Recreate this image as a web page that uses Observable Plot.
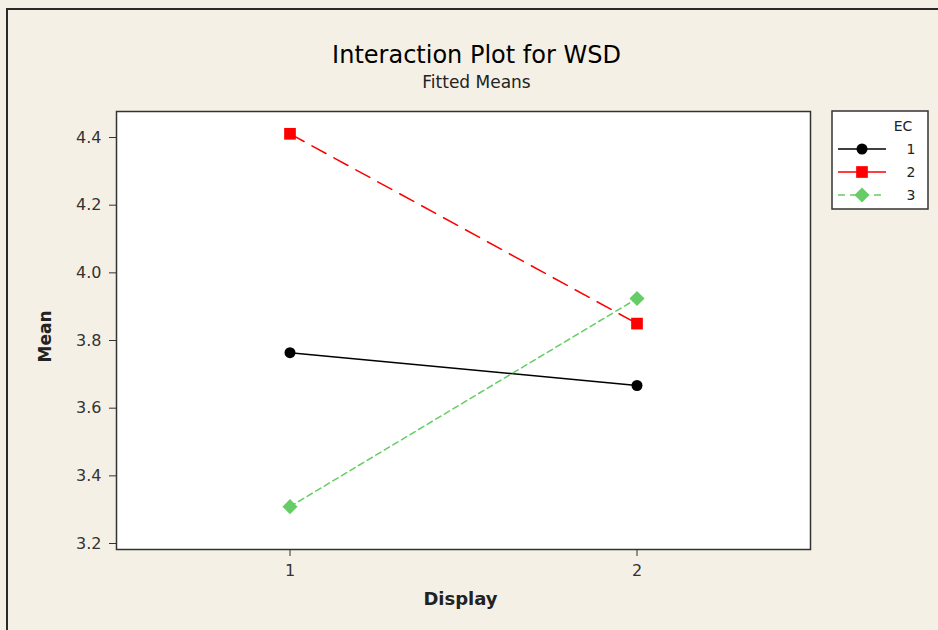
<!DOCTYPE html>
<html><head><meta charset="utf-8">
<script src="https://cdn.jsdelivr.net/npm/d3@7"></script>
<script src="https://cdn.jsdelivr.net/npm/@observablehq/plot@0.6"></script>
<style>
html,body{margin:0;padding:0;background:#f5f0e6;}
#wrap{position:relative;width:938px;height:630px;overflow:hidden;background:#f5f0e6;}
#border{position:absolute;left:6px;top:8px;width:960px;height:660px;border-left:2px solid #2a2a2a;border-top:2px solid #2a2a2a;pointer-events:none;}
#wrap svg{position:absolute;left:0;top:0;}
</style></head><body><div id="wrap"><div id="border"></div></div>
<script>
const display = [1, 2];
const ecLevels = ["1", "2", "3"];
const ec1 = [3.764, 3.667];
const ec2 = [4.411, 3.850];
const ec3 = [3.309, 3.924];
const yTicks = [3.2, 3.4, 3.6, 3.8, 4.0, 4.2, 4.4];
const xTicks = [1, 2];
const title = "Interaction Plot for WSD";
const subtitle = "Fitted Means";
const xLabel = "Display";
const yLabel = "Mean";
const legendTitle = "EC";

const colors = ["#000000", "#ff0000", "#66cc66"];
const symbols = ["circle", "square", "diamond2"];
const dashes = [null, "16,9", "6,4"];
const radii = [5.5, 6.6, 6.8];
const seriesValues = [ec1, ec2, ec3];

const rows = ecLevels.flatMap((ec, i) => display.map((d, j) => ({ec, display: d, mean: seriesValues[i][j]})));

const seriesMarks = ecLevels.flatMap((ec, i) => {
  const data = rows.filter(r => r.ec === ec);
  return [
    Plot.line(data, {x: "display", y: "mean", stroke: colors[i], strokeWidth: 1.5, strokeDasharray: dashes[i]}),
    Plot.dot(data, {x: "display", y: "mean", symbol: symbols[i], r: radii[i], fill: colors[i], stroke: "none"})
  ];
});

const chart = Plot.plot({
  width: 938, height: 630,
  marginLeft: 116, marginRight: 128, marginTop: 111, marginBottom: 81,
  style: {background: "transparent", fontFamily: "DejaVu Sans, sans-serif", fontSize: "16px", color: "#333"},
  x: {domain: [0.5, 2.5]},
  y: {domain: [3.1823, 4.4769]},
  marks: [
    Plot.frame({fill: "white"}),
    Plot.axisY({ticks: yTicks, tickFormat: d => d.toFixed(1), tickSize: 7, tickPadding: 8, label: null, fontSize: 16, color: "#333"}),
    Plot.axisX({ticks: xTicks, tickFormat: d => String(d), tickSize: 7, tickPadding: 8, label: null, fontSize: 16, color: "#333"}),
    ...seriesMarks,
    Plot.frame({stroke: "#333", strokeWidth: 1.5}),
    Plot.text([title], {frameAnchor: "top", textAnchor: "middle", lineAnchor: "middle", dx: 13, dy: -56, fontSize: 24, fill: "#000"}),
    Plot.text([subtitle], {frameAnchor: "top", textAnchor: "middle", lineAnchor: "middle", dx: 13, dy: -29, fontSize: 17, fill: "#222"}),
    Plot.text([xLabel], {frameAnchor: "bottom", textAnchor: "middle", lineAnchor: "middle", dx: -3, dy: 50, fontSize: 18, fontWeight: "bold", fill: "#222"}),
    Plot.text([yLabel], {frameAnchor: "left", textAnchor: "middle", lineAnchor: "middle", dx: -71, dy: 6, rotate: -90, fontSize: 17, fontWeight: "bold", fill: "#222"})
  ]
});

document.getElementById("wrap").appendChild(chart);

// legend
const svg = d3.select(chart);
const lg = svg.append("g").attr("font-family", "DejaVu Sans, sans-serif").attr("font-size", 14);
lg.append("rect").attr("x", 832).attr("y", 111).attr("width", 96).attr("height", 98)
  .attr("fill", "white").attr("stroke", "#333").attr("stroke-width", 1.5);
lg.append("text").attr("x", 903).attr("y", 126).attr("text-anchor", "middle").attr("dy", "0.35em").attr("fill", "#222").text(legendTitle);
ecLevels.forEach((ec, i) => {
  const y = 149 + i * 23;
  const ln = lg.append("line").attr("x1", 838).attr("x2", 886).attr("y1", y).attr("y2", y)
    .attr("stroke", colors[i]).attr("stroke-width", 1.5);
  if (dashes[i]) ln.attr("stroke-dasharray", i === 1 ? "18,0" : "7,5");
  const sym = {circle: d3.symbolCircle, square: d3.symbolSquare, diamond2: d3.symbolDiamond2}[symbols[i]];
  lg.append("path").attr("transform", `translate(862,${y})`)
    .attr("d", d3.symbol(sym, Math.PI * radii[i] * radii[i])())
    .attr("fill", colors[i]);
  lg.append("text").attr("x", 911).attr("y", y).attr("text-anchor", "middle").attr("dy", "0.35em").attr("fill", "#222").text(ec);
});
</script>
</body></html>
